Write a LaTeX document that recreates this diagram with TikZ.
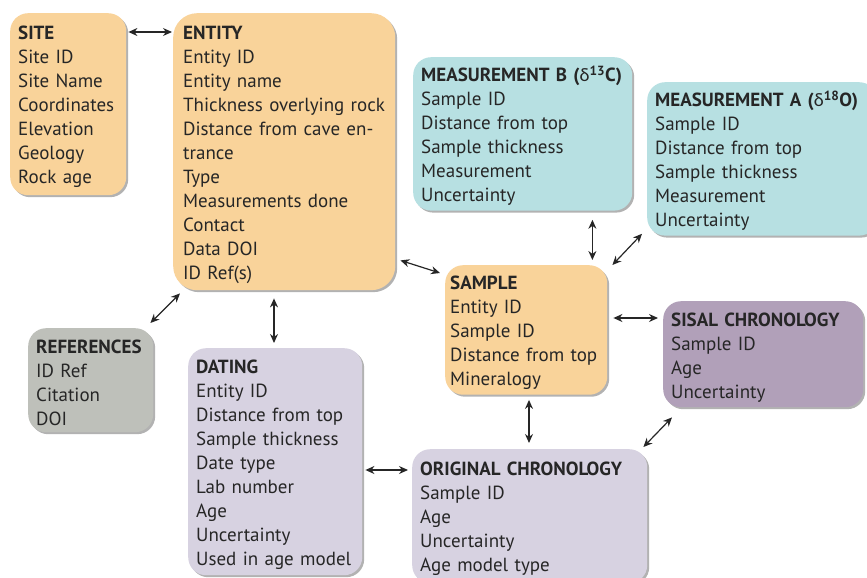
\documentclass[tikz,border=0pt]{standalone}
\usepackage{fontspec}
\setmainfont{PT Sans}
\newfontfamily\greekfont{Carlito}
\usetikzlibrary{arrows.meta,shadows,calc}

\definecolor{peach}{RGB}{249,211,154}
\definecolor{teal}{RGB}{183,224,226}
\definecolor{refgrey}{RGB}{190,192,186}
\definecolor{lilac}{RGB}{215,210,225}
\definecolor{mauve}{RGB}{177,160,185}

\newcommand{\tabhead}[1]{\rule{0pt}{19.5pt}\textbf{#1}}

\tikzset{
  table/.style={rectangle, rounded corners=18pt, anchor=north west, align=left,
    inner xsep=8pt, inner ysep=5pt,
    font=\fontsize{19}{24}\selectfont, text=black!85,
    drop shadow={shadow xshift=2pt, shadow yshift=-2pt, fill=black, opacity=0.3}},
  link/.style={{Stealth[length=9pt,width=8pt]}-{Stealth[length=9pt,width=8pt]}, line width=1.2pt, black!85}
}

\begin{document}
\begin{tikzpicture}[x=1pt, y=-1pt]
  \useasboundingbox (0,0) rectangle (867,578);

  % Entity tables
  \node[table, fill=peach, text width=100pt, minimum height=182pt] (site) at (10,13)
    {\tabhead{SITE}\\Site ID\\Site Name\\Coordinates\\Elevation\\Geology\\Rock age};
  \node[table, fill=peach, text width=202pt, minimum height=277pt, inner xsep=10pt, rounded corners=24pt] (entity) at (173,13)
    {\tabhead{ENTITY}\\Entity ID\\Entity name\\Thickness overlying rock\\Distance from cave en-\\trance\\Type\\Measurements done\\Contact\\Data DOI\\ID Ref(s)};
  \node[table, fill=teal, text width=203pt, minimum height=151pt] (measB) at (413,57)
    {\tabhead{MEASUREMENT B ({\greekfont\mdseries δ}\textsuperscript{13}C)}\\Sample ID\\Distance from top\\Sample thickness\\Measurement\\Uncertainty};
  \node[table, fill=teal, text width=214pt, minimum height=153pt] (measA) at (647,82)
    {\tabhead{MEASUREMENT A ({\greekfont\mdseries δ}\textsuperscript{18}O)}\\Sample ID\\Distance from top\\Sample thickness\\Measurement\\Uncertainty};
  \node[table, fill=peach, text width=152pt, minimum height=129pt, inner xsep=5pt] (sample) at (445,265)
    {\tabhead{SAMPLE}\\Entity ID\\Sample ID\\Distance from top\\Mineralogy};
  \node[table, fill=mauve, text width=184pt, minimum height=106pt] (sisal) at (663,301)
    {\tabhead{SISAL CHRONOLOGY}\\Sample ID\\Age\\Uncertainty};
  \node[table, fill=refgrey, text width=109pt, minimum height=104pt] (refs) at (28,328)
    {\tabhead{REFERENCES}\\ID Ref\\Citation\\DOI};
  \node[table, fill=lilac, text width=158pt, minimum height=227pt] (dating) at (188,348)
    {\tabhead{DATING}\\Entity ID\\Distance from top\\Sample thickness\\Date type\\Lab number\\Age\\Uncertainty\\Used in age model};
  \node[table, fill=lilac, text width=219pt, minimum height=134pt] (orig) at (412,449)
    {\tabhead{ORIGINAL CHRONOLOGY}\\Sample ID\\Age\\Uncertainty\\Age model type};

  % Links
  \draw[link] ([xshift=2pt,yshift=-19pt]site.north east) -- ([xshift=-1pt,yshift=-19pt]entity.north west);
  \draw[link] ([xshift=5pt,yshift=30pt]entity.south east) -- ([xshift=-5pt,yshift=-8pt]sample.north west);
  \draw[link] ([xshift=-40pt,yshift=-9pt]measB.south east) -- ([xshift=-15pt,yshift=5pt]sample.north east);
  \draw[link] ([xshift=5pt]sample.north east) -- ([xshift=-5pt,yshift=2pt]measA.south west);
  \draw[link] ([xshift=6pt,yshift=-53pt]sample.north east) -- ([xshift=-5pt,yshift=-17pt]sisal.north west);
  \draw[link] ([xshift=84pt,yshift=-5pt]sample.south west) -- ([xshift=117pt,yshift=6pt]orig.north west);
  \draw[link] ([xshift=9pt,yshift=-10pt]sisal.south west) -- ([xshift=-4pt,yshift=2pt]orig.north east);
  \draw[link] ([xshift=3pt,yshift=-122pt]dating.north east) -- ([xshift=-4pt,yshift=-21pt]orig.north west);
  \draw[link] ([xshift=101pt,yshift=-8pt]entity.south west) -- ([xshift=86pt,yshift=5pt]dating.north west);
  \draw[link] ([xshift=7pt,yshift=-3pt]entity.south west) -- ([xshift=-3pt,yshift=5pt]refs.north east);
\end{tikzpicture}
\end{document}
